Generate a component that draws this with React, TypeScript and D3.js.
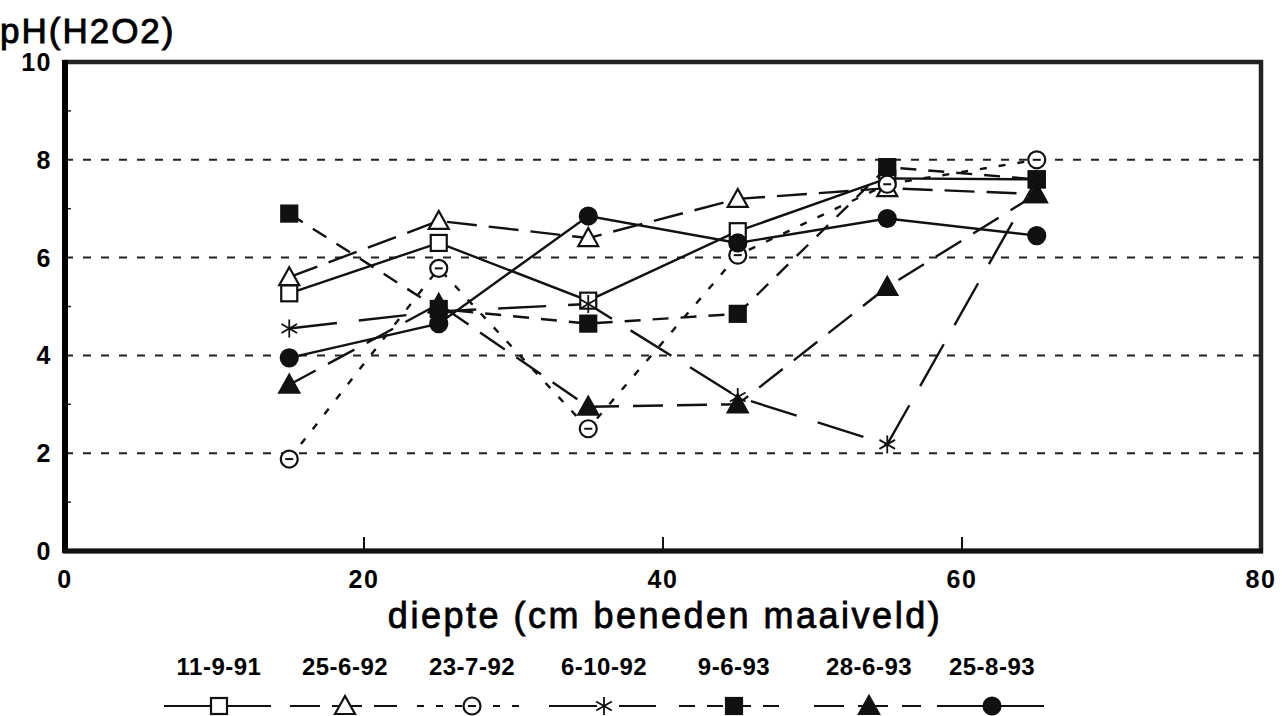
import React, { useEffect, useRef } from 'react';
import * as d3 from 'd3';

// depth (cm below surface) of each sample
const depths = [15, 25, 35, 45, 55, 65];

// series names in legend order
const seriesNames = ['11-9-91', '25-6-92', '23-7-92', '6-10-92', '9-6-93', '28-6-93', '25-8-93'];

// pH values per series
const ph_11_9_91 = [5.27, 6.3, 5.12, 6.54, 7.62, 7.6];
const ph_25_6_92 = [5.6, 6.75, 6.4, 7.2, 7.42, 7.3];
const ph_23_7_92 = [1.88, 5.78, 2.5, 6.05, 7.5, 8.0];
const ph_6_10_92 = [4.55, 4.9, 5.05, 3.15, 2.18, 7.6];
const ph_9_6_93 = [6.9, 4.95, 4.65, 4.85, 7.85, 7.6];
const ph_28_6_93 = [3.4, 5.05, 2.95, 3.0, 5.4, 7.3];
const ph_25_8_93 = [3.95, 4.65, 6.85, 6.3, 6.8, 6.45];

const xTicks = [0, 20, 40, 60, 80];
const yTicks = [0, 2, 4, 6, 8, 10];
const gridValues = [2, 4, 6, 8];

const seriesValues = [ph_11_9_91, ph_25_6_92, ph_23_7_92, ph_6_10_92, ph_9_6_93, ph_28_6_93, ph_25_8_93];

// marker kind and dash pattern per series
const markers = ['square', 'triangle', 'circleBar', 'asterisk', 'squareFill', 'triangleFill', 'circleFill'];
const dashes = [null, '30 12', '7 12', '48 22', '16 12', '30 14', null];

const W = 1287;
const H = 716;
const FONT = '"Liberation Sans", Arial, sans-serif';

function drawMarker(g: any, kind: string, x: number, y: number) {
  const s = 8;
  if (kind === 'square' || kind === 'squareFill') {
    g.append('rect')
      .attr('x', x - s).attr('y', y - s).attr('width', 2 * s).attr('height', 2 * s)
      .attr('fill', kind === 'squareFill' ? '#111' : 'white')
      .attr('stroke', '#111').attr('stroke-width', 2.2);
  } else if (kind === 'triangle' || kind === 'triangleFill') {
    const t = 10;
    g.append('path')
      .attr('d', `M${x},${y - t}L${x + t},${y + t * 0.8}L${x - t},${y + t * 0.8}Z`)
      .attr('fill', kind === 'triangleFill' ? '#111' : 'white')
      .attr('stroke', '#111').attr('stroke-width', 2.2);
  } else if (kind === 'circleBar' || kind === 'circleFill') {
    g.append('circle')
      .attr('cx', x).attr('cy', y).attr('r', 8.5)
      .attr('fill', kind === 'circleFill' ? '#111' : 'white')
      .attr('stroke', '#111').attr('stroke-width', 2.2);
    if (kind === 'circleBar') {
      g.append('line')
        .attr('x1', x - 4).attr('x2', x + 4).attr('y1', y).attr('y2', y)
        .attr('stroke', '#111').attr('stroke-width', 2);
    }
  } else if (kind === 'asterisk') {
    const a = 9;
    [0, 60, 120].forEach(deg => {
      const r = (deg * Math.PI) / 180;
      g.append('line')
        .attr('x1', x - a * Math.sin(r)).attr('y1', y - a * Math.cos(r))
        .attr('x2', x + a * Math.sin(r)).attr('y2', y + a * Math.cos(r))
        .attr('stroke', '#111').attr('stroke-width', 1.8);
    });
  }
}

const App = () => {
  const svgRef = useRef<SVGSVGElement>(null);

  useEffect(() => {
    const svg = d3.select(svgRef.current);
    svg.selectAll('*').remove();

    const left = 65, right = 1261, top = 62, bottom = 551;
    const x = d3.scaleLinear().domain([0, 80]).range([left, right]);
    const y = d3.scaleLinear().domain([0, 10]).range([bottom, top]);

    // dashed grid lines
    svg.append('g').selectAll('line')
      .data(gridValues)
      .join('line')
      .attr('x1', left).attr('x2', right)
      .attr('y1', d => y(d)).attr('y2', d => y(d))
      .attr('stroke', '#222').attr('stroke-width', 2)
      .attr('stroke-dasharray', '8 10');

    // minor y ticks
    svg.append('g').selectAll('line')
      .data(d3.range(1, 10, 2))
      .join('line')
      .attr('x1', left).attr('x2', left + 6)
      .attr('y1', d => y(d)).attr('y2', d => y(d))
      .attr('stroke', '#222').attr('stroke-width', 1.5);

    // x ticks pointing inside
    svg.append('g').selectAll('line')
      .data(xTicks.slice(1, -1))
      .join('line')
      .attr('x1', d => x(d)).attr('x2', d => x(d))
      .attr('y1', bottom).attr('y2', bottom - 14)
      .attr('stroke', '#111').attr('stroke-width', 2);

    // frame
    svg.append('rect')
      .attr('x', left).attr('y', top).attr('width', right - left).attr('height', bottom - top)
      .attr('fill', 'none').attr('stroke', '#222').attr('stroke-width', 4.5);
    svg.append('line')
      .attr('x1', left).attr('x2', left).attr('y1', top - 2).attr('y2', bottom + 2)
      .attr('stroke', '#000').attr('stroke-width', 6);
    svg.append('line')
      .attr('x1', left - 2).attr('x2', right + 2).attr('y1', bottom).attr('y2', bottom)
      .attr('stroke', '#111').attr('stroke-width', 5);

    // tick labels
    svg.append('g').selectAll('text')
      .data(xTicks)
      .join('text')
      .attr('x', d => x(d)).attr('y', bottom + 37)
      .attr('text-anchor', 'middle')
      .style('font-family', FONT).style('font-size', '25px').style('font-weight', 'bold')
      .style('letter-spacing', '1.5px')
      .text(d => d);
    svg.append('g').selectAll('text')
      .data(yTicks)
      .join('text')
      .attr('x', left - 13).attr('y', d => y(d) + 9)
      .attr('text-anchor', 'end')
      .style('font-family', FONT).style('font-size', '25px').style('font-weight', 'bold')
      .style('letter-spacing', '1.5px')
      .text(d => d);

    // axis titles
    svg.append('text')
      .attr('x', 0).attr('y', 43)
      .style('font-family', FONT).style('font-size', '35px')
      .style('letter-spacing', '2px')
      .attr('stroke', '#000').attr('stroke-width', 0.9)
      .text('pH(H2O2)');
    svg.append('text')
      .attr('x', 665).attr('y', 628)
      .attr('text-anchor', 'middle')
      .style('font-family', FONT).style('font-size', '36px')
      .style('letter-spacing', '2.5px')
      .attr('stroke', '#000').attr('stroke-width', 0.8)
      .text('diepte (cm beneden maaiveld)');

    // series lines
    const line = d3.line<number>().x((_, i) => x(depths[i])).y(d => y(d));
    seriesValues.forEach((vals, si) => {
      svg.append('path')
        .attr('d', line(vals))
        .attr('fill', 'none')
        .attr('stroke', '#111').attr('stroke-width', 2.4)
        .attr('stroke-dasharray', dashes[si] ?? null);
    });
    // markers
    seriesValues.forEach((vals, si) => {
      const g = svg.append('g');
      vals.forEach((v, i) => drawMarker(g, markers[si], x(depths[i]), y(v)));
    });

    // legend
    const legendCenters = [219, 345, 472, 604, 734, 869, 992];
    seriesNames.forEach((name, si) => {
      const cx = legendCenters[si];
      const g = svg.append('g');
      g.append('text')
        .attr('x', cx).attr('y', 675)
        .attr('text-anchor', 'middle')
        .style('font-family', FONT).style('font-size', '24px').style('font-weight', 'bold')
        .style('letter-spacing', '0.5px')
        .text(name);
      g.append('line')
        .attr('x1', cx - 55).attr('x2', cx + 52).attr('y1', 706).attr('y2', 706)
        .attr('stroke', '#111').attr('stroke-width', 2)
        .attr('stroke-dasharray', dashes[si] ?? null);
      drawMarker(g, markers[si], cx, 706);
    });
  }, []);

  return (
    <svg
      ref={svgRef}
      width={W}
      height={H}
      style={{ position: 'absolute', left: 0, top: 0, background: 'white' }}
    />
  );
};

export default App;
